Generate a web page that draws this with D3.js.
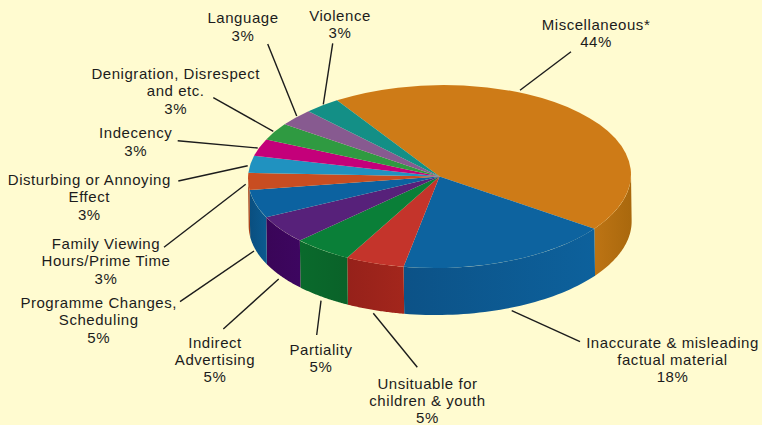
<!DOCTYPE html>
<html>
<head>
<meta charset="utf-8">
<script src="https://cdn.jsdelivr.net/npm/d3@7"></script>
<style>
    html, body { margin: 0; padding: 0; background: #fffbd0; }
    svg { display: block; }
    text { font-family: "Liberation Sans", Arial, sans-serif; font-size: 15px; letter-spacing: 0.55px; fill: #1c1c1c; text-anchor: middle; }
</style>
</head>
<body>
<svg id="chart"></svg>
<script>
const categories = [
    ['Miscellaneous*'],
    ['Inaccurate & misleading', 'factual material'],
    ['Unsituable for', 'children & youth'],
    ['Partiality'],
    ['Indirect', 'Advertising'],
    ['Programme Changes,', 'Scheduling'],
    ['Family Viewing', 'Hours/Prime Time'],
    ['Disturbing or Annoying', 'Effect'],
    ['Indecency'],
    ['Denigration, Disrespect', 'and etc.'],
    ['Language'],
    ['Violence']
];
const values = [44, 18, 5, 5, 5, 5, 3, 3, 3, 3, 3, 3];
const topColors = ['#ce7b17', '#0d639f', '#c4342b', '#0a7f38', '#57217a', '#0c62a0', '#c84d21', '#2092c0', '#c4007a', '#2f9a41', '#875a90', '#138f86'];
const sideLeft = ['#bd7414', '#0c5287', '#96211a', '#0a6a2c', '#3a0558', '#0a4f80', '#a8401a', '#2092c0', '#c4007a', '#2f9a41', '#875a90', '#138f86'];
const sideRight = ['#a9680d', '#0d619c', '#a3261c', '#0a6229', '#3d0660', '#0b5a90', '#a8401a', '#2092c0', '#c4007a', '#2f9a41', '#875a90', '#138f86'];

// label block: centre x, first baseline, then the leader line ends
const labelLayout = [
    { x: 596, y: 30, line: [[571, 51.7], [520, 90.3]] },
    { x: 672.5, y: 347.5, line: [[580, 341.7], [511.7, 310.7]] },
    { x: 427.5, y: 388.5, line: [[417.3, 367.3], [373.3, 313.3]] },
    { x: 321, y: 355, line: [[316.7, 335], [321, 300.7]] },
    { x: 215, y: 347.5, line: [[223.3, 329], [278.7, 279]] },
    { x: 98.7, y: 307.7, line: [[180, 301.7], [254, 251]] },
    { x: 106, y: 249, line: [[164, 247.3], [245.7, 184.3]] },
    { x: 89.3, y: 185, line: [[178.3, 181], [247.7, 165.7]] },
    { x: 135.7, y: 138.3, line: [[177.7, 140.7], [257.7, 148]] },
    { x: 175.7, y: 79, line: [[213.3, 97.7], [273.3, 131.3]] },
    { x: 243, y: 23.3, line: [[267.7, 44], [296.7, 116]] },
    { x: 340, y: 20.5, line: [[332.7, 43.3], [323.3, 104.3]] }
];

const width = 762, height = 425;
const cx = 439.5, cy = 176.5, rx = 191.5, ry = 91.5, depth = 47;
const tilt = -0.8;
const lineHeight = 17.4;

const svg = d3.select('#chart').attr('width', width).attr('height', height);
const defs = svg.append('defs');

const startAngle = -32 * Math.PI / 180;
const pie = d3.pie().sort(null).startAngle(startAngle).endAngle(startAngle + 2 * Math.PI);
const slices = pie(values);

const px = d3.scaleLinear().domain([-1, 1]).range([cx - rx, cx + rx]);
const py = d3.scaleLinear().domain([-1, 1]).range([cy - ry, cy + ry]);
const rimX = a => px(Math.sin(a));
const rimY = a => py(-Math.cos(a));

// the whole disc leans a little in the picture
const disc = svg.append('g').attr('transform', `rotate(${tilt},${cx},${cy})`);

// sides, only the front half of the cylinder shows
const walls = disc.append('g');
const wallLine = d3.line().x(d => d[0]).y(d => d[1]);
slices.forEach((s, i) => {
    const a0 = Math.max(s.startAngle, Math.PI / 2);
    const a1 = Math.min(s.endAngle, 3 * Math.PI / 2);
    if (a1 <= a0) return;
    const steps = d3.range(0, 41).map(k => a0 + (a1 - a0) * k / 40);
    const upper = steps.map(a => [rimX(a), rimY(a)]);
    const lower = steps.slice().reverse().map(a => [rimX(a), rimY(a) + depth]);
    const grad = defs.append('linearGradient').attr('id', 'wall' + i);
    grad.append('stop').attr('offset', 0).attr('stop-color', sideLeft[i]);
    grad.append('stop').attr('offset', 1).attr('stop-color', sideRight[i]);
    walls.append('path')
        .attr('d', wallLine(upper.concat(lower)) + 'Z')
        .attr('fill', 'url(#wall' + i + ')');
});

// top face, an ordinary pie squashed into the ellipse
const arc = d3.arc().innerRadius(0).outerRadius(rx);
disc.append('g')
    .attr('transform', `translate(${cx},${cy}) scale(1,${ry / rx})`)
    .selectAll('path')
    .data(slices)
    .enter()
    .append('path')
    .attr('d', arc)
    .attr('fill', (d, i) => topColors[i]);

// leader lines
svg.append('g')
    .selectAll('line')
    .data(labelLayout)
    .enter()
    .append('line')
    .attr('x1', d => d.line[0][0])
    .attr('y1', d => d.line[0][1])
    .attr('x2', d => d.line[1][0])
    .attr('y2', d => d.line[1][1])
    .attr('stroke', '#1c1c1c')
    .attr('stroke-width', 1.4);

// labels
const labels = svg.append('g');
categories.forEach((lines, i) => {
    const pos = labelLayout[i];
    lines.concat([values[i] + '%']).forEach((t, j) => {
        labels.append('text')
            .attr('x', pos.x)
            .attr('y', pos.y + j * lineHeight)
            .text(t);
    });
});
</script>
</body>
</html>
